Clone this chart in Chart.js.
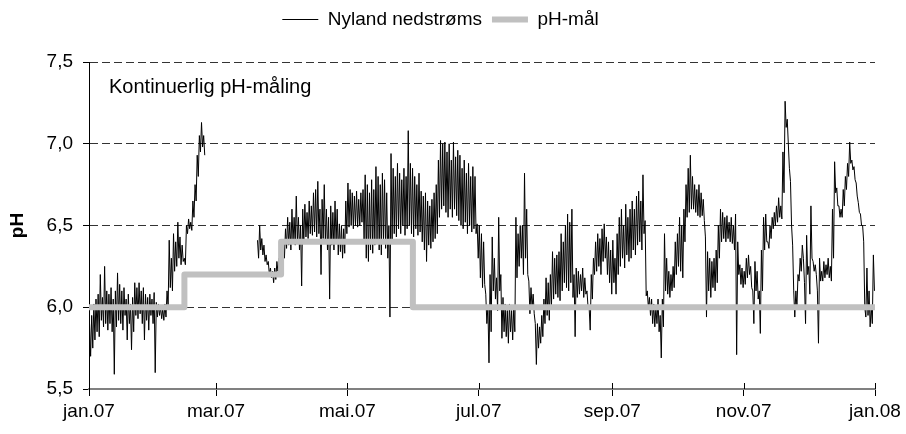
<!DOCTYPE html>
<html>
<head>
<meta charset="utf-8">
<script src="https://cdn.jsdelivr.net/npm/chart.js@4.4.1/dist/chart.umd.min.js"></script>
<style>
  html, body { margin: 0; padding: 0; background: #fff; }
  #wrap { width: 906px; height: 434px; }
</style>
</head>
<body>
<div id="wrap"><canvas id="phChart" width="906" height="434"></canvas></div>
<script>
// x is day of year, 0 = 1 Jan 2007
const monthTicks = [0, 59, 120, 181, 243, 304, 365]
const monthLabels = ["jan.07", "mar.07", "mai.07", "jul.07", "sep.07", "nov.07", "jan.08"]
const noteText = "Kontinuerlig pH-måling"

// daily high / low of the logger at Nyland, null = no data
const nylandHigh = [
  5.90, 5.95, 6.02, 6.05, 6.08, 6.20, 6.06, 6.25, 6.10, 6.08,
  6.12, 6.05, 6.10, 6.21, 6.14, 6.10, 6.12, 6.05, 6.08, 6.02,
  6.06, 6.15, 6.12, 6.15, 6.10, 6.12, 6.08, 6.06, 6.08, 6.05,
  6.09, 6.03, 6.02, 6.00, 5.99, 6.02, 6.10, 6.41, 6.30, 6.45,
  6.40, 6.52, 6.43, 6.38, 6.30, 6.50, 6.54, 6.52, 6.65, 6.75,
  6.93, 7.05, 7.13, 7.05, null, null, null, null, null, null,
  null, null, null, null, null, null, null, null, null, null,
  null, null, null, null, null, null, null, null, 6.41, 6.50,
  6.42, 6.38, 6.32, 6.28, 6.24, 6.22, 6.24, 6.28, 6.30, 6.35,
  6.40, 6.48, 6.55, 6.52, 6.60, 6.55, 6.68, 6.55, 6.50, 6.60,
  6.63, 6.58, 6.65, 6.62, 6.70, 6.72, 6.77, 6.60, 6.66, 6.75,
  6.60, 6.55, 6.62, 6.58, 6.65, 6.60, 6.51, 6.50, 6.48, 6.65,
  6.76, 6.72, 6.70, 6.68, 6.71, 6.66, 6.70, 6.72, 6.81, 6.75,
  6.70, 6.78, 6.72, 6.86, 6.80, 6.75, 6.82, 6.78, 6.70, 6.50,
  6.94, 6.85, 6.80, 6.88, 6.82, 6.78, 6.85, 6.80, 7.08, 6.88,
  6.85, 6.80, 6.75, 6.82, 6.71, 6.68, 6.70, 6.65, 6.62, 6.66,
  6.70, 6.75, 6.90, 7.02, 7.00, 7.01, 6.95, 7.00, 6.90, 7.01,
  6.92, 6.96, 6.93, 6.85, 6.90, 6.82, 6.88, 6.80, 6.86, 6.80,
  6.51, 6.50, 6.45, 6.40, 6.08, 6.00, 6.20, 6.43, 6.30, 6.18,
  6.55, 6.20, 6.06, 6.02, 5.98, 6.02, 5.98, 6.00, 6.55, 6.45,
  6.50, 6.50, 6.82, 6.60, 6.16, 6.12, 6.08, 5.90, 5.90, 5.88,
  5.95, 6.05, 6.18, 6.15, 6.20, 6.34, 6.30, 6.32, 6.34, 6.45,
  6.40, 6.50, 6.57, 6.52, 6.60, 6.20, 6.24, 6.22, 6.20, 6.24,
  6.18, 6.10, 6.00, 6.20, 6.30, 6.40, 6.45, 6.42, 6.48, 6.51,
  6.43, 6.40, 6.35, 6.41, 6.30, 6.45, 6.55, 6.60, 6.50, 6.63,
  6.55, 6.60, 6.65, 6.60, 6.68, 6.71, 6.65, 6.81, 6.53, 6.10,
  6.06, 6.05, 6.02, 6.00, 6.05, 5.95, 6.05, 6.45, 6.30, 6.22,
  6.20, 6.25, 6.40, 6.45, 6.55, 6.50, 6.60, 6.75, 6.85, 6.93,
  6.80, 6.75, 6.72, 6.75, 6.70, 6.66, 6.43, 6.34, 6.30, 6.28,
  6.30, 6.35, 6.50, 6.60, 6.58, 6.55, 6.56, 6.52, 6.55, 6.50,
  6.57, 6.40, 6.26, 6.24, 6.22, 6.30, 6.32, 6.25, 6.10, 6.28,
  6.22, 6.10, 6.35, 6.55, 6.57, 6.40, 6.50, 6.55, 6.58, 6.62,
  6.67, 6.62, 6.95, 7.26, 7.15, 6.85, 6.50, 6.10, 6.10, 6.20,
  6.30, 6.38, 6.15, 6.44, 6.25, 6.62, 6.28, 6.26, 6.10, 6.30,
  6.22, 6.28, 6.26, 6.30, 6.25, 6.60, 6.89, 6.73, 6.62, 6.60,
  6.72, 6.80, 6.88, 7.01, 6.90, 6.86, 6.76, 6.64, 6.57, 6.50,
  6.00, 6.24, 6.10, 6.00, 6.32
]
const nylandLow = [
  5.70, 5.75, 5.80, 5.85, 5.82, 5.92, 5.88, 5.90, 5.86, 5.90,
  5.85, 5.59, 5.88, 5.92, 5.90, 5.86, 5.95, 5.80, 5.90, 5.74,
  5.85, 5.95, 5.93, 5.96, 5.90, 5.80, 5.92, 5.86, 5.95, 5.90,
  5.60, 5.94, 5.95, 5.93, 5.92, 5.94, 6.00, 6.12, 6.10, 6.22,
  6.25, 6.30, 6.26, 6.28, 6.26, 6.45, 6.48, 6.47, 6.55, 6.65,
  6.80, 6.95, 6.98, 6.93, null, null, null, null, null, null,
  null, null, null, null, null, null, null, null, null, null,
  null, null, null, null, null, null, null, null, 6.30, 6.35,
  6.32, 6.28, 6.26, 6.20, 6.18, 6.15, 6.17, 6.22, 6.24, 6.28,
  6.30, 6.36, 6.38, 6.35, 6.40, 6.38, 6.40, 6.35, 6.13, 6.40,
  6.43, 6.42, 6.45, 6.44, 6.46, 6.43, 6.45, 6.20, 6.42, 6.40,
  6.35, 6.05, 6.38, 6.35, 6.40, 6.32, 6.34, 6.30, 6.33, 6.45,
  6.49, 6.50, 6.48, 6.50, 6.49, 6.50, 6.52, 6.40, 6.30, 6.28,
  6.35, 6.33, 6.38, 6.40, 6.35, 6.32, 6.40, 6.36, 6.30, 5.94,
  6.40, 6.45, 6.43, 6.48, 6.45, 6.50, 6.44, 6.48, 6.50, 6.45,
  6.43, 6.48, 6.44, 6.46, 6.40, 6.35, 6.28, 6.38, 6.36, 6.40,
  6.42, 6.45, 6.55, 6.60, 6.62, 6.58, 6.55, 6.60, 6.55, 6.60,
  6.56, 6.53, 6.50, 6.48, 6.52, 6.45, 6.50, 6.46, 6.48, 6.45,
  6.30, 6.18, 6.12, 6.14, 5.90, 5.66, 5.85, 6.10, 6.05, 5.98,
  6.10, 5.81, 5.85, 5.82, 5.78, 5.85, 5.80, 5.85, 6.18, 6.25,
  6.30, 6.20, 6.30, 6.20, 5.96, 6.00, 5.96, 5.65, 5.75, 5.78,
  5.82, 5.90, 5.95, 5.92, 6.00, 6.05, 6.08, 6.06, 6.04, 6.10,
  6.15, 6.12, 6.10, 6.15, 6.06, 5.82, 6.06, 6.08, 6.10, 6.06,
  6.08, 6.00, 5.86, 6.05, 6.20, 6.22, 6.25, 6.20, 6.28, 6.30,
  6.20, 6.15, 6.08, 6.15, 6.08, 6.20, 6.25, 6.30, 6.24, 6.32,
  6.28, 6.30, 6.35, 6.32, 6.38, 6.40, 6.35, 6.45, 6.07, 6.00,
  5.95, 5.90, 5.88, 5.90, 5.85, 5.69, 5.88, 6.10, 6.08, 6.06,
  6.10, 6.12, 6.20, 6.25, 6.22, 6.18, 6.40, 6.55, 6.58, 6.60,
  6.60, 6.58, 6.56, 6.55, 6.56, 6.53, 5.94, 6.10, 6.06, 6.12,
  6.10, 6.15, 6.30, 6.40, 6.42, 6.40, 6.42, 6.40, 6.39, 6.35,
  5.71, 6.20, 6.14, 6.12, 6.14, 6.18, 6.20, 6.12, 5.90, 6.10,
  6.05, 5.84, 6.10, 6.35, 6.40, 6.36, 6.42, 6.48, 6.50, 6.52,
  6.55, 6.54, 6.70, 7.10, 7.00, 6.77, 6.38, 5.94, 6.00, 6.16,
  6.22, 6.30, 5.90, 6.20, 6.08, 6.30, 6.22, 6.20, 5.78, 6.16,
  6.16, 6.18, 6.20, 6.18, 6.16, 6.30, 6.70, 6.62, 6.55, 6.55,
  6.62, 6.72, 6.80, 6.88, 6.84, 6.78, 6.68, 6.58, 6.50, 6.40,
  5.94, 5.95, 5.88, 5.90, 6.10
]

// pH target, each value holds until the next change day
const maalDays = [0, 44.3, 89.2, 150.4, 365]
const maalValues = [6.0, 6.2, 6.4, 6.0, 6.0]

const FONT = "'Liberation Sans', Arial, sans-serif"

const nylandPoints = []
nylandHigh.forEach((hi, d) => {
  if (hi === null) {
    nylandPoints.push({ x: d + 0.5, y: null })
    return
  }
  nylandPoints.push({ x: d + 0.25, y: hi }, { x: d + 0.75, y: nylandLow[d] })
})
const maalPoints = maalDays.map((d, i) => ({ x: d, y: maalValues[i] }))

// room between legend and plot
const legendGap = {
  id: "legendGap",
  beforeInit(chart) {
    if (!chart.legend) return
    const fit = chart.legend.fit
    chart.legend.fit = function () {
      fit.call(this)
      this.height += 23
    }
  }
}

// text box in the plot + the upper half of the crossing x ticks
const noteLabel = {
  id: "noteLabel",
  afterDraw(chart) {
    const { ctx, chartArea, scales } = chart
    ctx.save()
    ctx.font = "20px " + FONT
    ctx.fillStyle = "#000"
    ctx.textBaseline = "alphabetic"
    ctx.fillText(noteText, chartArea.left + 20, chartArea.top + 31)
    ctx.strokeStyle = "#000"
    ctx.lineWidth = 1
    ctx.beginPath()
    monthTicks.forEach((v) => {
      const x = Math.round(scales.x.getPixelForValue(v)) + 0.5
      ctx.moveTo(x, chartArea.bottom)
      ctx.lineTo(x, chartArea.bottom - 6)
    })
    ctx.stroke()
    ctx.restore()
  }
}

new Chart(document.getElementById("phChart"), {
  type: "line",
  data: {
    datasets: [
      {
        label: "pH-mål",
        data: maalPoints,
        borderColor: "#c0c0c0",
        backgroundColor: "#c0c0c0",
        borderWidth: 6,
        stepped: "before",
        pointRadius: 0,
        borderCapStyle: "round",
        borderJoinStyle: "round",
        fill: false
      },
      {
        label: "Nyland nedstrøms",
        data: nylandPoints,
        borderColor: "#000",
        backgroundColor: "#000",
        borderWidth: 1,
        pointRadius: 0,
        tension: 0,
        spanGaps: false,
        fill: false
      }
    ]
  },
  options: {
    responsive: false,
    animation: false,
    layout: { padding: { left: 6, right: 31, top: 0, bottom: 0 } },
    plugins: {
      legend: {
        reverse: true,
        labels: {
          usePointStyle: true,
          pointStyle: "line",
          pointStyleWidth: 36,
          padding: 10,
          color: "#000",
          font: { family: FONT, size: 19 }
        }
      },
      tooltip: { enabled: false }
    },
    scales: {
      x: {
        type: "linear",
        min: 0,
        max: 365,
        afterBuildTicks: (s) => { s.ticks = monthTicks.map((v) => ({ value: v })) },
        afterFit: (s) => { s.height = 45 },
        ticks: {
          autoSkip: false,
          maxRotation: 0,
          padding: 4,
          color: "#000",
          font: { family: FONT, size: 19 },
          callback: (v) => monthLabels[monthTicks.indexOf(v)]
        },
        grid: { drawOnChartArea: false, tickLength: 7, tickColor: "#000" },
        border: { color: "#808080", width: 2 }
      },
      y: {
        min: 5.5,
        max: 7.5,
        afterFit: (s) => { s.width = 83 },
        ticks: {
          stepSize: 0.5,
          padding: 10,
          color: "#000",
          font: { family: FONT, size: 19 },
          callback: (v) => v.toFixed(1).replace(".", ",")
        },
        grid: {
          color: (c) => (c.tick && c.tick.value === 5.5 ? "rgba(0,0,0,0)" : "#333"),
          tickColor: "#000",
          tickLength: 6,
          lineWidth: 1
        },
        border: { color: "#000", width: 1, dash: [8, 4] },
        title: {
          display: true,
          text: "pH",
          color: "#000",
          font: { family: FONT, size: 19, weight: "bold" },
          padding: { top: 0, bottom: 0 }
        }
      }
    }
  },
  plugins: [legendGap, noteLabel]
})
</script>
</body>
</html>
